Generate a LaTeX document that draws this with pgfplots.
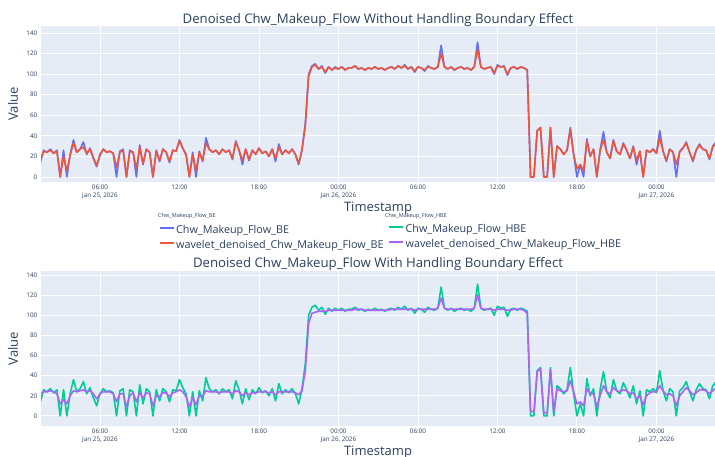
\documentclass[border=0pt]{standalone}
\usepackage{fontspec}
\setmainfont{Open Sans}
\usepackage{pgfplots}
\usepackage{pgfplotstable}
\pgfplotsset{compat=1.18}
\definecolor{pbg}{HTML}{E5ECF6}
\definecolor{pblue}{HTML}{636EFA}
\definecolor{pred}{HTML}{EF553B}
\definecolor{pgreen}{HTML}{00CC96}
\definecolor{ppurple}{HTML}{AB63FA}
\definecolor{ptxt}{HTML}{2A3F5F}
\pgfplotstableread{
t raw red pur
1.5 14 16 22
1.75 26 25 24
2.0 24 24 24
2.25 27 26 25
2.5 23 23 24
2.75 26 25 22
3.0 0 0 12
3.25 26 20 16
3.5 0 6 12
3.75 22 21 20
4.0 36 33 25
4.25 24 24 24
4.5 27 27 25
4.75 34 29 26
5.0 22 23 24
5.25 28 27 25
5.5 18 19 22
5.75 10 11 17
6.0 22 21 22
6.25 27 27 24
6.5 24 24 24
6.75 25 25 24
7.0 23 23 22
7.25 0 9 14
7.5 25 24 22
7.75 27 26 22
8.0 0 0 9
8.25 26 25 20
8.5 24 24 23
8.75 0 8 14
9.0 31 29 23
9.25 12 13 18
9.5 27 27 23
9.75 24 24 22
10.0 0 0 10
10.25 26 25 20
10.5 15 16 19
10.75 27 27 23
11.0 24 24 23
11.25 14 15 19
11.5 26 26 23
11.75 25 25 24
12.0 36 35 26
12.25 28 28 24
12.5 22 21 19
12.75 0 0 9
13.0 24 22 18
13.25 0 6 11
13.5 25 24 20
13.75 15 16 20
14.0 38 33 25
14.25 27 27 24
14.5 24 24 24
14.75 26 26 24
15.0 22 22 23
15.25 27 27 24
15.5 24 24 24
15.75 26 26 24
16.0 17 18 22
16.25 35 34 25
16.5 26 26 24
16.75 12 16 20
17.0 27 27 23
17.25 16 17 21
17.5 26 26 23
17.75 22 22 23
18.0 28 28 24
18.25 23 23 24
18.5 25 25 24
18.75 20 20 23
19.0 27 27 24
19.25 15 18 21
19.5 32 29 24
19.75 22 22 24
20.0 26 26 24
20.25 23 23 24
20.5 27 27 24
20.75 22 22 23
21.0 12 13 21
21.25 27 26 25
21.5 52 50 45
21.75 100 98 92
22.0 108 107 102
22.25 110 109 103
22.5 105 105 104
22.75 108 107 104
23.0 101 102 104
23.25 107 107 105
23.5 104 104 105
23.75 107 106 105
24.0 105 105 105
24.25 107 107 105
24.5 104 104 105
24.75 106 106 105
25.0 106 106 105
25.25 108 108 106
25.5 105 105 106
25.75 106 106 106
26.0 104 104 105
26.25 106 106 105
26.5 105 105 105
26.75 107 107 105
27.0 105 105 105
27.25 106 106 105
27.5 104 104 105
27.75 106 106 105
28.0 107 107 106
28.25 105 105 106
28.5 108 108 106
28.75 106 106 106
29.0 109 108 106
29.25 105 105 106
29.5 107 107 106
29.75 102 103 105
30.0 107 107 106
30.25 106 106 106
30.5 103 104 106
30.75 108 107 106
31.0 106 106 106
31.25 105 105 106
31.5 107 107 107
31.75 128 120 117
32.0 107 107 107
32.25 105 105 106
32.5 107 107 106
32.75 104 104 106
33.0 106 106 106
33.25 107 107 106
33.5 105 105 106
33.75 106 106 106
34.0 104 104 106
34.25 107 107 107
34.5 131 124 120
34.75 107 107 107
35.0 105 105 106
35.25 106 106 106
35.5 107 107 106
35.75 100 101 105
36.0 109 108 106
36.25 107 107 106
36.5 108 107 106
36.75 99 100 105
37.0 106 106 105
37.25 107 107 106
37.5 105 105 106
37.75 107 107 106
38.0 106 106 105
38.25 104 104 102
38.5 0 0 5
38.75 0 0 4
39.0 45 45 44
39.25 48 48 47
39.5 0 0 3
39.75 0 0 3
40.0 48 48 46
40.25 0 0 4
40.5 30 30 27
40.75 27 27 25
41.0 22 22 24
41.25 26 26 25
41.5 48 46 35
41.75 22 22 24
42.0 0 8 12
42.25 12 12 14
42.5 0 6 10
42.75 37 35 27
43.0 20 20 22
43.25 27 27 22
43.5 0 0 9
43.75 26 26 20
44.0 44 36 30
44.25 24 24 24
44.5 18 18 22
44.75 36 35 28
45.0 25 25 25
45.25 22 22 24
45.5 33 32 26
45.75 26 26 25
46.0 18 18 22
46.25 30 29 23
46.5 12 16 17
46.75 25 25 20
47.0 0 0 11
47.25 26 26 20
47.5 24 24 23
47.75 27 27 24
48.0 23 23 24
48.25 45 38 30
48.5 25 25 25
48.75 15 16 21
49.0 27 27 22
49.25 24 24 20
49.5 0 12 10
49.75 25 24 20
50.0 28 28 24
50.25 34 33 28
50.5 24 24 25
50.75 15 16 21
51.0 26 26 23
51.25 32 31 26
51.5 27 27 26
51.75 26 26 25
52.0 17 18 22
52.25 30 29 25
52.5 34 33 28
}\flowdata
\pgfplotsset{plotlystyle/.style={
  scale only axis, width=674pt,
  xmin=1.55, xmax=52.42,
  axis background/.style={fill=pbg},
  axis line style={draw=none},
  grid=major, major grid style={white, line width=0.9pt},
  major tick length=0pt,
  xtick={6,12,...,48},
  xticklabels={{06:00\\Jan 25, 2026},{12:00},{18:00},{00:00\\Jan 26, 2026},{06:00},{12:00},{18:00},{00:00\\Jan 27, 2026}},
  ytick={0,20,...,140},
  /pgf/number format/assume math mode=true,
  tick label style={font=\fontsize{6.3}{7.3}\selectfont, text=ptxt},
  xticklabel style={align=center, inner sep=0pt, yshift=-3pt},
  yticklabel style={inner sep=0pt, xshift=-3.5pt},
  label style={font=\fontsize{13}{15}\selectfont, text=ptxt},
  ylabel style={at={(axis description cs:-0.0415,0.5)}, anchor=center},
  every axis plot/.append style={line width=1.6pt, line join=round},
  legend image code/.code={\draw[##1, line width=1.5pt] (0pt,2.6pt) -- (14pt,2.6pt);},
  legend cell align=left,
}}
\begin{document}
\begin{tikzpicture}
\useasboundingbox (0,0) rectangle (715pt,457pt);
\begin{axis}[plotlystyle,
  at={(41pt,275pt)}, anchor=south west,
  height=156pt, ymin=-4.9, ymax=146.8,
  title={Denoised Chw\_Makeup\_Flow Without Handling Boundary Effect},
  every axis title/.style={at={(axis description cs:0.5,1.038)}, anchor=center,
    font=\fontsize{13.2}{15}\selectfont, text=ptxt},
  xlabel={Timestamp}, ylabel={Value},
  xlabel style={at={(axis description cs:0.5,-0.1667)}, anchor=center},
  legend style={at={(axis description cs:0.1705,-0.2564)}, anchor=north west,
    draw=none, fill=none, row sep=2.2pt,
    font=\fontsize{10.8}{12}\selectfont, text=ptxt,
    nodes={inner sep=1.5pt}},
]
\addplot[color=pblue] table[x=t, y=raw] {\flowdata};
\addlegendentry{Chw\_Makeup\_Flow\_BE}
\addplot[color=pred] table[x=t, y=red] {\flowdata};
\addlegendentry{wavelet\_denoised\_Chw\_Makeup\_Flow\_BE}
\end{axis}
\begin{axis}[plotlystyle,
  at={(41pt,31pt)}, anchor=south west,
  height=155pt, ymin=-10, ymax=144,
  title={Denoised Chw\_Makeup\_Flow With Handling Boundary Effect},
  every axis title/.style={at={(axis description cs:0.5,1.045)}, anchor=center,
    font=\fontsize{13.2}{15}\selectfont, text=ptxt},
  xlabel={Timestamp}, ylabel={Value},
  xlabel style={at={(axis description cs:0.5,-0.1677)}, anchor=center},
  legend style={at={(axis description cs:0.511,1.322)}, anchor=north west,
    draw=none, fill=none, row sep=2.2pt,
    font=\fontsize{10.8}{12}\selectfont, text=ptxt,
    nodes={inner sep=1.5pt}},
]
\addplot[color=pgreen] table[x=t, y=raw] {\flowdata};
\addlegendentry{Chw\_Makeup\_Flow\_HBE}
\addplot[color=ppurple] table[x=t, y=pur] {\flowdata};
\addlegendentry{wavelet\_denoised\_Chw\_Makeup\_Flow\_HBE}
\end{axis}
\node[anchor=west, inner sep=0pt, font=\fontsize{5.5}{6.5}\selectfont, text=ptxt] at (158pt,241pt) {Chw\_Makeup\_Flow\_BE};
\node[anchor=west, inner sep=0pt, font=\fontsize{5.5}{6.5}\selectfont, text=ptxt] at (385pt,241pt) {Chw\_Makeup\_Flow\_HBE};
\end{tikzpicture}
\end{document}
